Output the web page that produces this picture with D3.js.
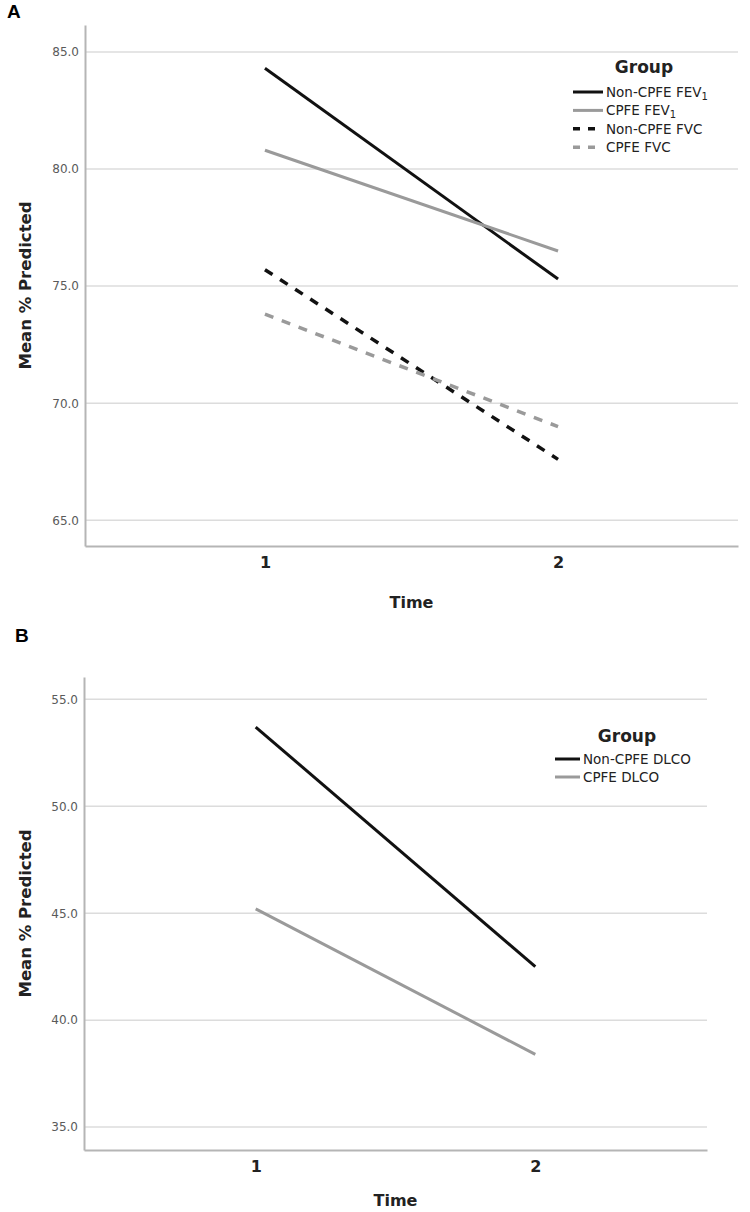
<!DOCTYPE html>
<html>
<head>
<meta charset="utf-8">
<script src="https://cdn.jsdelivr.net/npm/d3@7"></script>
<style>
  body { margin: 0; background: #fff; }
  svg text { font-family: "DejaVu Sans", sans-serif; }
</style>
</head>
<body>
<div id="chart"></div>
<script>
// data
var timePoints = [1, 2]

var groupsA = ["Non-CPFE FEV_1", "CPFE FEV_1", "Non-CPFE FVC", "CPFE FVC"]
var nonCpfeFev1 = [84.3, 75.3]
var cpfeFev1 = [80.8, 76.5]
var nonCpfeFvc = [75.7, 67.6]
var cpfeFvc = [73.8, 69.0]
var yTicksA = [65, 70, 75, 80, 85]

var groupsB = ["Non-CPFE DLCO", "CPFE DLCO"]
var nonCpfeDlco = [53.7, 42.5]
var cpfeDlco = [45.2, 38.4]
var yTicksB = [35, 40, 45, 50, 55]

var width = 750
var height = 1212

var svg = d3.select('#chart').append('svg')
    .attr('width', width)
    .attr('height', height)

var black = '#111'
var grey = '#9a9a9a'

drawPanel({
    letter: 'A', letterX: 7, letterY: 18,
    left: 85, right: 738, top: 25, bottom: 546, timeOffset: 62,
    domain: [63.9, 86.15], ticks: yTicksA,
    series: [
        {name: groupsA[0], values: nonCpfeFev1, color: black, dash: null},
        {name: groupsA[1], values: cpfeFev1, color: grey, dash: null},
        {name: groupsA[2], values: nonCpfeFvc, color: black, dash: '9,9'},
        {name: groupsA[3], values: cpfeFvc, color: grey, dash: '9,9'}
    ],
    legend: {titleX: 644, titleY: 73, lineX: 573, lineLen: 30, rowY: 92, rowStep: 18.4}
})

drawPanel({
    letter: 'B', letterX: 15, letterY: 642,
    left: 84, right: 707, top: 677, bottom: 1150, timeOffset: 56,
    domain: [33.93, 56.04], ticks: yTicksB,
    series: [
        {name: groupsB[0], values: nonCpfeDlco, color: black, dash: null},
        {name: groupsB[1], values: cpfeDlco, color: grey, dash: null}
    ],
    legend: {titleX: 627, titleY: 742, lineX: 555, lineLen: 25, rowY: 759, rowStep: 18}
})

function drawPanel(p) {
    var x = d3.scalePoint().domain(timePoints).range([p.left, p.right]).padding(0.614)
    var y = d3.scaleLinear().domain(p.domain).range([p.bottom, p.top])

    var g = svg.append('g')

    // grid lines
    g.selectAll('.grid').data(p.ticks).enter().append('line')
        .attr('x1', p.left).attr('x2', p.right)
        .attr('y1', d => y(d)).attr('y2', d => y(d))
        .attr('stroke', '#dcdcdc').attr('stroke-width', 1.5)

    var yAxis = g.append('g')
        .attr('transform', 'translate(' + p.left + ',0)')
        .call(d3.axisLeft(y).tickValues(p.ticks).tickSize(0).tickPadding(6).tickFormat(d3.format('.1f')))
    yAxis.select('.domain').attr('stroke', '#b5b5b5').attr('stroke-width', 2)
    yAxis.selectAll('text').attr('font-size', 12).attr('fill', '#5a5a5a')
        .style('font-family', '"DejaVu Sans", sans-serif')

    var xAxis = g.append('g')
        .attr('transform', 'translate(0,' + p.bottom + ')')
        .call(d3.axisBottom(x).tickSize(0).tickPadding(11))
    xAxis.select('.domain').attr('stroke', '#b5b5b5').attr('stroke-width', 2)
    xAxis.selectAll('text').attr('font-size', 16).attr('fill', '#222').attr('font-weight', 'bold')

    g.append('text')
        .attr('x', (p.left + p.right) / 2).attr('y', p.bottom + p.timeOffset)
        .attr('text-anchor', 'middle').attr('font-size', 16).attr('font-weight', 'bold').attr('fill', '#222')
        .text('Time')

    g.append('text')
        .attr('transform', 'translate(31,' + ((p.top + p.bottom) / 2) + ') rotate(-90)')
        .attr('text-anchor', 'middle').attr('font-size', 16.5).attr('font-weight', 'bold').attr('fill', '#222')
        .text('Mean % Predicted')

    g.append('text')
        .attr('x', p.letterX).attr('y', p.letterY)
        .attr('font-size', 19).attr('font-weight', 'bold')
        .style('font-family', '"Liberation Sans", Arial, sans-serif')
        .text(p.letter)

    var line = d3.line().x((d, i) => x(timePoints[i])).y(d => y(d))
    g.selectAll('.series').data(p.series).enter().append('path')
        .attr('d', d => line(d.values))
        .attr('fill', 'none')
        .attr('stroke', d => d.color)
        .attr('stroke-width', d => d.dash ? 3.5 : 3)
        .attr('stroke-dasharray', d => d.dash)

    // legend
    var lg = p.legend
    g.append('text')
        .attr('x', lg.titleX).attr('y', lg.titleY)
        .attr('text-anchor', 'middle').attr('font-size', 17).attr('font-weight', 'bold').attr('fill', '#222')
        .text('Group')

    var rows = g.selectAll('.legend-row').data(p.series).enter().append('g')
        .attr('transform', (d, i) => 'translate(0,' + (lg.rowY + i * lg.rowStep) + ')')
    rows.append('line')
        .attr('x1', lg.lineX).attr('x2', lg.lineX + lg.lineLen)
        .attr('stroke', d => d.color)
        .attr('stroke-width', d => d.dash ? 3.5 : 3)
        .attr('stroke-dasharray', d => d.dash ? '7,8' : null)
    var t = rows.append('text')
        .attr('x', lg.lineX + lg.lineLen + 3).attr('y', 5)
        .attr('font-size', 13.5).attr('fill', '#222')
    t.each(function (d) {
        var parts = d.name.split('_')
        var el = d3.select(this)
        el.append('tspan').text(parts[0])
        if (parts[1]) {
            el.append('tspan').attr('font-size', 10).attr('dy', 3).text(parts[1])
        }
    })
}
</script>
</body>
</html>
